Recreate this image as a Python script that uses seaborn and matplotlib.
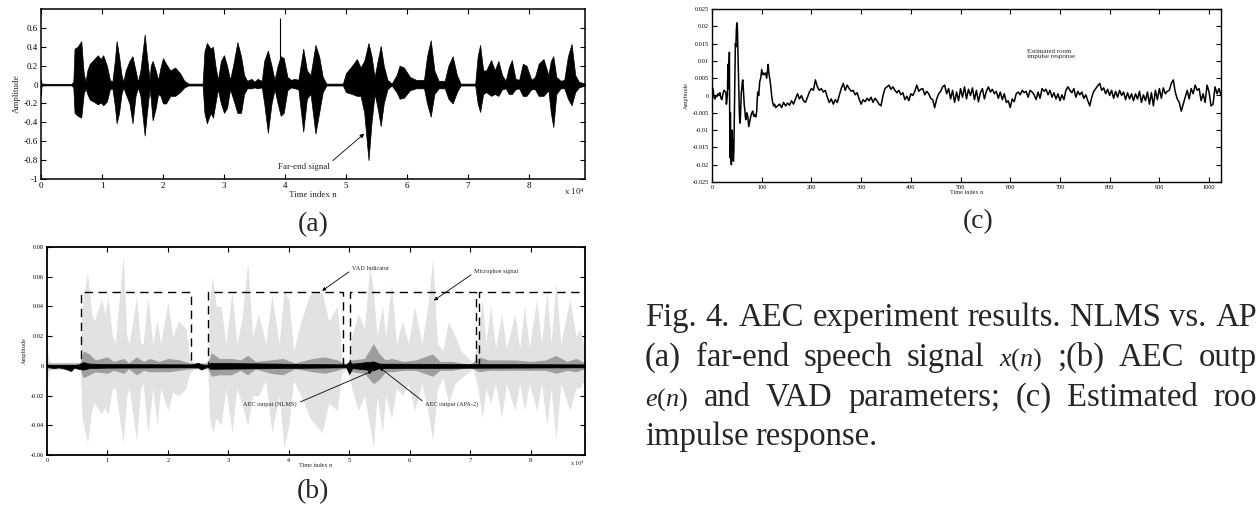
import numpy as np
import pandas as pd
import seaborn as sns
import matplotlib.pyplot as plt
from matplotlib.ticker import FuncFormatter

sns.set_theme(style='ticks')
plt.rcParams['font.family'] = ['Liberation Serif', 'DejaVu Serif']
plt.rcParams['mathtext.fontset'] = 'custom'
plt.rcParams['mathtext.rm'] = 'Liberation Serif'
plt.rcParams['mathtext.it'] = 'Liberation Serif:italic'

# ---- (a) far-end signal: envelope (time in units of 1e4 samples)
t_a = [0.00, 0.01, 0.10, 0.50, 0.53, 0.55, 0.60, 0.66, 0.70, 0.73, 0.76, 0.80, 0.86, 0.93, 0.98,
       1.02, 1.08, 1.13, 1.17, 1.21, 1.24, 1.28, 1.32, 1.35, 1.39, 1.45, 1.50, 1.55, 1.59, 1.63,
       1.70, 1.74, 1.78, 1.80, 1.83, 1.88, 1.92, 1.96, 2.00, 2.05, 2.12, 2.20, 2.28, 2.35, 2.42,
       2.65, 2.68, 2.72, 2.78, 2.82, 2.86, 2.90, 2.95, 3.00, 3.05, 3.10, 3.15, 3.22, 3.28, 3.33,
       3.38, 3.45, 3.50, 3.55, 3.62, 3.66, 3.72, 3.78, 3.83, 3.88, 3.93, 3.98, 4.04, 4.10, 4.16,
       4.22, 4.30, 4.36, 4.42, 4.50, 4.56, 4.62, 4.68, 4.95, 5.00, 5.10, 5.18, 5.24, 5.30, 5.37,
       5.42, 5.47, 5.52, 5.57, 5.62, 5.68, 5.75, 5.83, 5.88, 5.95, 6.05, 6.15, 6.28, 6.33, 6.39,
       6.45, 6.52, 6.62, 6.68, 6.75, 6.82, 6.88, 7.12, 7.16, 7.20, 7.25, 7.30, 7.38, 7.44, 7.50,
       7.56, 7.62, 7.67, 7.72, 7.78, 7.84, 7.90, 7.96, 8.04, 8.10, 8.16, 8.24, 8.32, 8.36, 8.40,
       8.45, 8.52, 8.58, 8.64, 8.70, 8.76, 8.82, 8.92]
up_a = [0.05, 0.01, 0.008, 0.008, 0.03, 0.38, 0.40, 0.46, 0.12, 0.03, 0.15, 0.22, 0.26, 0.31, 0.27,
        0.31, 0.20, 0.05, 0.03, 0.25, 0.46, 0.30, 0.10, 0.03, 0.15, 0.25, 0.30, 0.15, 0.03, 0.15,
        0.53, 0.28, 0.05, 0.20, 0.25, 0.15, 0.05, 0.18, 0.28, 0.22, 0.15, 0.18, 0.12, 0.04, 0.01,
        0.01, 0.35, 0.44, 0.38, 0.40, 0.20, 0.05, 0.25, 0.31, 0.20, 0.05, 0.20, 0.45, 0.30, 0.10,
        0.04, 0.06, 0.03, 0.06, 0.04, 0.25, 0.36, 0.20, 0.05, 0.20, 0.30, 0.28, 0.08, 0.05, 0.06,
        0.05, 0.38, 0.15, 0.10, 0.42, 0.30, 0.08, 0.01, 0.01, 0.12, 0.20, 0.27, 0.18, 0.25, 0.44,
        0.30, 0.08, 0.25, 0.41, 0.20, 0.05, 0.01, 0.10, 0.20, 0.18, 0.08, 0.05, 0.05, 0.30, 0.47,
        0.15, 0.04, 0.04, 0.20, 0.30, 0.10, 0.01, 0.01, 0.30, 0.42, 0.15, 0.15, 0.26, 0.15, 0.25,
        0.10, 0.04, 0.18, 0.26, 0.06, 0.05, 0.22, 0.20, 0.05, 0.08, 0.22, 0.27, 0.10, 0.25, 0.30,
        0.08, 0.04, 0.05, 0.30, 0.43, 0.10, 0.03, 0.01]
lo_a = [-0.11, -0.01, -0.008, -0.008, -0.03, -0.30, -0.33, -0.35, -0.10, -0.04, -0.10, -0.16, -0.18, -0.21, -0.19,
        -0.22, -0.18, -0.05, -0.04, -0.22, -0.41, -0.30, -0.10, -0.03, -0.10, -0.20, -0.41, -0.12, -0.03, -0.12,
        -0.54, -0.28, -0.05, -0.15, -0.38, -0.25, -0.10, -0.12, -0.20, -0.20, -0.12, -0.12, -0.08, -0.03, -0.01,
        -0.01, -0.30, -0.41, -0.30, -0.35, -0.20, -0.05, -0.20, -0.30, -0.25, -0.05, -0.15, -0.30, -0.30, -0.10,
        -0.04, -0.04, -0.03, -0.04, -0.03, -0.20, -0.51, -0.20, -0.05, -0.20, -0.33, -0.30, -0.06, -0.03, -0.04,
        -0.05, -0.50, -0.15, -0.10, -0.52, -0.30, -0.08, -0.01, -0.01, -0.08, -0.10, -0.12, -0.12, -0.30, -0.80,
        -0.40, -0.10, -0.25, -0.44, -0.20, -0.05, -0.01, -0.08, -0.15, -0.14, -0.06, -0.04, -0.04, -0.20, -0.34,
        -0.10, -0.04, -0.04, -0.15, -0.20, -0.08, -0.01, -0.01, -0.20, -0.29, -0.10, -0.08, -0.12, -0.10, -0.12,
        -0.05, -0.04, -0.10, -0.10, -0.05, -0.04, -0.12, -0.12, -0.05, -0.05, -0.12, -0.12, -0.06, -0.30, -0.45,
        -0.10, -0.04, -0.04, -0.15, -0.22, -0.08, -0.03, -0.01]
spike_t = 3.92
spike_top = 0.70

# ---- (b) microphone, AEC outputs and VAD
t_mic = [0.00, 0.03, 0.10, 0.55, 0.58, 0.67, 0.74, 0.78, 0.90, 0.96, 1.01, 1.08, 1.13, 1.26, 1.32,
         1.36, 1.48, 1.55, 1.59, 1.67, 1.75, 1.82, 1.88, 2.00, 2.08, 2.18, 2.30, 2.36, 2.45, 2.66,
         2.69, 2.74, 2.80, 2.88, 2.96, 3.06, 3.14, 3.22, 3.32, 3.40, 3.50, 3.62, 3.72, 3.84, 3.92,
         4.00, 4.08, 4.20, 4.35, 4.45, 4.55, 4.66, 4.80, 4.88, 4.98, 5.04, 5.15, 5.25, 5.34, 5.40,
         5.46, 5.55, 5.60, 5.70, 5.78, 5.88, 5.98, 6.08, 6.20, 6.30, 6.38, 6.46, 6.55, 6.64, 6.75,
         6.85, 7.05, 7.13, 7.20, 7.26, 7.34, 7.42, 7.52, 7.60, 7.74, 7.82, 7.90, 7.98, 8.10, 8.18,
         8.27, 8.34, 8.42, 8.50, 8.65, 8.75, 8.82, 8.90]
up_mic = [0.015, 0.004, 0.001, 0.001, 0.040, 0.063, 0.035, 0.030, 0.045, 0.035, 0.046, 0.020, 0.015, 0.075, 0.020,
          0.015, 0.046, 0.015, 0.015, 0.046, 0.015, 0.030, 0.015, 0.043, 0.020, 0.030, 0.025, 0.005, 0.001, 0.001,
          0.045, 0.060, 0.040, 0.040, 0.015, 0.050, 0.015, 0.030, 0.070, 0.020, 0.035, 0.015, 0.048, 0.015, 0.050,
          0.045, 0.010, 0.030, 0.048, 0.050, 0.050, 0.030, 0.040, 0.005, 0.001, 0.020, 0.035, 0.025, 0.067, 0.050,
          0.020, 0.040, 0.020, 0.055, 0.015, 0.030, 0.015, 0.040, 0.015, 0.040, 0.072, 0.015, 0.010, 0.030, 0.020,
          0.010, 0.002, 0.020, 0.045, 0.015, 0.040, 0.012, 0.035, 0.012, 0.035, 0.012, 0.040, 0.012, 0.045, 0.015,
          0.050, 0.015, 0.056, 0.015, 0.045, 0.020, 0.025, 0.010]
lo_mic = [-0.012, -0.004, -0.001, -0.001, -0.035, -0.052, -0.030, -0.025, -0.032, -0.028, -0.033, -0.015, -0.015, -0.052, -0.020,
          -0.015, -0.050, -0.015, -0.012, -0.045, -0.015, -0.040, -0.015, -0.030, -0.018, -0.020, -0.015, -0.005, -0.001, -0.001,
          -0.035, -0.045, -0.035, -0.040, -0.015, -0.045, -0.015, -0.025, -0.040, -0.020, -0.020, -0.010, -0.045, -0.020, -0.055,
          -0.040, -0.010, -0.020, -0.035, -0.040, -0.045, -0.025, -0.030, -0.005, -0.001, -0.015, -0.030, -0.020, -0.040, -0.055,
          -0.020, -0.045, -0.020, -0.035, -0.015, -0.020, -0.012, -0.030, -0.012, -0.030, -0.050, -0.015, -0.008, -0.025, -0.012,
          -0.008, -0.002, -0.015, -0.035, -0.015, -0.025, -0.012, -0.035, -0.012, -0.030, -0.012, -0.030, -0.012, -0.030, -0.012,
          -0.040, -0.015, -0.050, -0.012, -0.030, -0.015, -0.015, -0.008]

t_nlms = [0.00, 0.55, 0.60, 0.70, 0.80, 1.00, 1.10, 1.27, 1.35, 1.48, 1.60, 1.70, 1.85, 2.00, 2.20,
          2.35, 2.66, 2.72, 2.85, 3.05, 3.20, 3.32, 3.45, 3.70, 3.90, 4.10, 4.40, 4.60, 4.80, 4.95,
          5.05, 5.25, 5.40, 5.50, 5.60, 5.70, 5.90, 6.10, 6.38, 6.50, 6.70, 7.00, 7.15, 7.30, 7.50,
          7.75, 8.00, 8.25, 8.42, 8.60, 8.75, 8.90]
up_nlms = [0.002, 0.002, 0.010, 0.008, 0.004, 0.006, 0.003, 0.005, 0.002, 0.006, 0.003, 0.005, 0.003, 0.005, 0.004,
           0.002, 0.002, 0.009, 0.005, 0.005, 0.004, 0.007, 0.003, 0.004, 0.005, 0.002, 0.005, 0.006, 0.004, 0.001,
           0.004, 0.005, 0.015, 0.008, 0.004, 0.005, 0.003, 0.004, 0.008, 0.003, 0.003, 0.001, 0.006, 0.004, 0.004,
           0.004, 0.003, 0.004, 0.007, 0.003, 0.005, 0.002]
lo_nlms = [-0.002, -0.002, -0.008, -0.006, -0.004, -0.005, -0.003, -0.005, -0.002, -0.006, -0.003, -0.004, -0.004, -0.004, -0.003,
           -0.002, -0.002, -0.007, -0.006, -0.006, -0.003, -0.006, -0.002, -0.005, -0.006, -0.002, -0.004, -0.005, -0.003, -0.001,
           -0.004, -0.005, -0.012, -0.009, -0.004, -0.004, -0.003, -0.003, -0.007, -0.003, -0.003, -0.001, -0.004, -0.003, -0.003,
           -0.003, -0.003, -0.003, -0.005, -0.003, -0.004, -0.002]

t_apa = [0.00, 0.10, 0.20, 0.30, 0.40, 0.45, 0.52, 0.60, 0.70, 1.00, 2.40, 2.50, 2.55, 2.65, 2.70,
         4.95, 5.00, 5.05, 5.40, 5.50, 8.90]
up_apa = [0.0005, 0.0003, 0.0003, 0.0005, 0.0003, 0.0005, 0.0010, 0.0025, 0.0015, 0.0012, 0.0010, 0.0020, 0.0010, 0.0005, 0.0020,
          0.0010, 0.0030, 0.0015, 0.0030, 0.0015, 0.0010]
lo_apa = [-0.0005, -0.0015, -0.0010, -0.0020, -0.0035, -0.0010, -0.0020, -0.0025, -0.0015, -0.0012, -0.0010, -0.0010, -0.0025, -0.0005, -0.0020,
          -0.0010, -0.0055, -0.0015, -0.0030, -0.0015, -0.0010]

vad_t = [0.00, 0.57, 2.38, 2.67, 4.89, 5.02, 7.10, 7.15, 8.95]
vad_level = [0, 0.05, 0, 0.05, 0, 0.05, 0, 0.05, 0.05]

# ---- (c) estimated room impulse response
h_n_head = [0, 2, 4, 6, 8, 10, 12, 14, 16, 18, 20, 22, 24, 26, 28, 29, 31, 32, 33, 35,
            36, 37, 38, 39, 40, 41, 42, 43, 44, 45, 46, 47, 48, 49, 50, 51, 52, 53, 54, 55,
            56, 57, 58, 59, 60, 61, 62, 63, 64, 65, 66, 67, 68, 70, 72, 74, 76, 78, 80, 82,
            84, 86, 88, 90, 91, 92, 94, 96, 98, 100, 102, 104, 106, 108, 110, 112, 113, 114, 116, 118,
            120, 122, 124, 126, 128]
h_head = [0.0025, 0.002, -0.0005, -0.001, 0.0, -0.0003, 0.0005, 0.0, 0.0008, -0.0008,
          -0.0012, 0.0005, 0.0015, 0.0012, 0.0008, -0.0025, 0.0, 0.009, 0.002, 0.0125,
          -0.018, -0.005, -0.0175, -0.020, -0.010, -0.0125, -0.013, -0.019, -0.016, -0.005,
          0.008, 0.015, 0.014, 0.019, 0.021, 0.020, 0.014, 0.008, 0.002, -0.005,
          -0.008, -0.007, -0.003, 0.001, 0.002, 0.004, 0.0045, 0.002, -0.001, -0.003,
          -0.004, -0.006, -0.007, -0.005, -0.006, -0.009, -0.0075, -0.006, -0.005, -0.0045,
          -0.006, -0.0055, -0.0062, -0.0045, -0.001, 0.001, 0.0, 0.004, 0.005, 0.0075,
          0.006, 0.0065, 0.006, 0.0065, 0.005, 0.0075, 0.009, 0.007, 0.005, 0.003,
          0.0, -0.002, -0.003, -0.0025, -0.0035]
h_tail = [-0.0030, -0.0025, -0.0035, -0.0020, -0.0030, -0.0022, -0.0028, -0.0015, -0.0025, -0.0010,
          0.0005, -0.0010, 0.0000, -0.0015, -0.0020, -0.0005, 0.0010, 0.0020, 0.0015, 0.0045,
          0.0025, 0.0015, 0.0020, 0.0010, 0.0015, -0.0005, -0.0020, -0.0010, -0.0025, -0.0012,
          -0.0020, 0.0000, 0.0020, 0.0035, 0.0015, 0.0030, 0.0020, 0.0012, 0.0015, 0.0002,
          0.0008, -0.0010, -0.0025, -0.0012, -0.0018, -0.0008, -0.0015, -0.0005, -0.0020, -0.0008,
          -0.0015, -0.0025, -0.0030, 0.0000, 0.0020, 0.0025, 0.0030, 0.0018, 0.0025, 0.0015,
          0.0008, 0.0015, 0.0002, 0.0008, -0.0012, -0.0002, -0.0015, 0.0005, 0.0000, 0.0012,
          0.0030, 0.0012, 0.0018, 0.0020, 0.0002, 0.0012, 0.0005, -0.0008, -0.0012, -0.0035,
          -0.0010, 0.0005, 0.0012, 0.0025, 0.0030, 0.0005, 0.0020, -0.0010, 0.0015, -0.0020,
          0.0010, -0.0015, 0.0020, -0.0005, 0.0025, -0.0010, 0.0018, 0.0000, 0.0022, -0.0012,
          0.0015, -0.0018, 0.0008, 0.0020, -0.0010, 0.0012, 0.0025, 0.0010, 0.0018, 0.0005,
          0.0012, -0.0008, 0.0010, -0.0012, 0.0005, -0.0020, -0.0015, -0.0035, -0.0010, -0.0018,
          0.0005, 0.0010, 0.0002, 0.0015, 0.0008, 0.0012, -0.0005, 0.0015, 0.0010, 0.0002,
          -0.0012, 0.0010, -0.0008, 0.0020, 0.0012, 0.0018, 0.0002, 0.0015, -0.0005, 0.0008,
          -0.0010, 0.0005, -0.0015, 0.0002, -0.0012, 0.0015, 0.0025, 0.0015, 0.0008, 0.0020,
          -0.0005, 0.0012, 0.0002, 0.0010, -0.0008, 0.0002, -0.0015, -0.0030, -0.0005, 0.0012,
          0.0020, 0.0028, 0.0035, 0.0015, 0.0022, 0.0005, 0.0018, 0.0000, 0.0015, -0.0008,
          0.0012, -0.0005, 0.0015, 0.0000, 0.0010, -0.0012, 0.0008, -0.0010, 0.0005, -0.0015,
          0.0005, -0.0010, 0.0012, -0.0020, 0.0002, -0.0015, 0.0010, -0.0025, 0.0008, -0.0030,
          0.0015, -0.0012, 0.0020, -0.0008, 0.0022, 0.0005, 0.0012, 0.0015, 0.0035, 0.0045,
          0.0010, -0.0010, -0.0020, -0.0045, -0.0025, -0.0005, 0.0015, -0.0010, 0.0020, 0.0005,
          0.0030, 0.0015, 0.0020, -0.0015, 0.0005, -0.0020, 0.0030, 0.0010, -0.0030, -0.0025,
          0.0025, 0.0005, 0.0020, 0.0000]
h_n_tail = list(range(132, 1025, 4))

# caption as it shows in the scan (the page is cropped at the right edge)
caption_lines = [
    ['Fig.', '4.', 'AEC', 'experiment', 'results.', 'NLMS', 'vs.', 'AP'],
    ['(a)', 'far-end', 'speech', 'signal', r'$x(n)$', ';(b)', 'AEC', 'outp'],
    [r'$e(n)$', 'and', 'VAD', 'parameters;', '(c)', 'Estimated', 'roo'],
    ['impulse', 'response.'],
]

W, H = 1260, 511
fig = plt.figure(figsize=(W / 100, H / 100), dpi=100)
fig.patch.set_facecolor('white')


def box(l, t, r, b):
    return [l / W, 1 - b / H, (r - l) / W, (b - t) / H]


fmt = FuncFormatter(lambda v, p: '%g' % (round(v, 6) + 0.0))
fmt4 = FuncFormatter(lambda v, p: '%g' % (round(v / 1e4, 6) + 0.0))


def matlab_axes(ax, size, lw=1.0):
    ax.set_facecolor('white')
    ax.tick_params(direction='in', top=True, right=True, length=3.5, width=0.8,
                   labelsize=size, pad=2, colors='black')
    for s in ax.spines.values():
        s.set_linewidth(lw)
        s.set_color('black')
        s.set_visible(True)
    ax.grid(False)


# ---------------- (a)
ax_a = fig.add_axes(box(41, 9, 585, 179))
ta = np.array(t_a) * 1e4
ax_a.fill_between(ta, up_a, lo_a, color='black', lw=0.5)
ax_a.plot([0, 8.92e4], [0, 0], color='black', lw=0.8)
ax_a.vlines(spike_t * 1e4, -0.05, spike_top, color='black', lw=0.8)
ax_a.set_xlim(0, 8.92e4)
ax_a.set_ylim(-1, 0.8)
ax_a.set_xticks(np.arange(0, 9) * 1e4)
ax_a.set_yticks(np.arange(-1, 0.61, 0.2))
ax_a.xaxis.set_major_formatter(fmt4)
ax_a.yaxis.set_major_formatter(fmt)
matlab_axes(ax_a, 6.5, 1.1)
ax_a.set_xlabel('Time index n', fontsize=6.5, labelpad=1)
ax_a.set_ylabel('Amplitude', fontsize=6.5, labelpad=2)
ax_a.text(1.0, -0.04, r'x 10$^{4}$', transform=ax_a.transAxes, fontsize=6.5, ha='right', va='top')
ax_a.annotate('Far-end signal', xy=(5.3e4, -0.52), xytext=(3.88e4, -0.87), fontsize=6.5,
              ha='left', va='center',
              arrowprops=dict(arrowstyle='-|>', color='black', lw=0.6, mutation_scale=6,
                              relpos=(1, 0.9), shrinkA=0, shrinkB=0))

# ---------------- (b)
ax_b = fig.add_axes(box(47, 247, 585, 455))
ax_b.fill_between(np.array(t_mic) * 1e4, up_mic, lo_mic, color='#e2e2e2', lw=0)
ax_b.fill_between(np.array(t_nlms) * 1e4, up_nlms, lo_nlms, color='#9e9e9e', lw=0)
vad = pd.DataFrame({'t': np.array(vad_t) * 1e4, 'v': vad_level})
ax_b.plot(vad['t'], vad['v'], drawstyle='steps-post', color='black', lw=1.0, dashes=(6, 4))
ax_b.fill_between(np.array(t_apa) * 1e4, up_apa, lo_apa, color='black', lw=0.5)
ax_b.plot([0, 8.9e4], [0, 0], color='black', lw=1.2)
ax_b.set_xlim(0, 8.9e4)
ax_b.set_ylim(-0.06, 0.08)
ax_b.set_xticks(np.arange(0, 9) * 1e4)
ax_b.set_yticks(np.arange(-0.06, 0.081, 0.02))
ax_b.xaxis.set_major_formatter(fmt4)
ax_b.yaxis.set_major_formatter(fmt)
matlab_axes(ax_b, 4.5, 1.3)
ax_b.set_xlabel('Time index n', fontsize=4.5, labelpad=0)
ax_b.set_ylabel('Amplitude', fontsize=4.5, labelpad=3)
ax_b.text(1.0, -0.02, r'x 10$^{4}$', transform=ax_b.transAxes, fontsize=4.5, ha='right', va='top')
arr = dict(arrowstyle='-|>', color='black', lw=0.6, mutation_scale=5, shrinkA=0, shrinkB=0)
ax_b.annotate('VAD Indicator', xy=(4.55e4, 0.0505), xytext=(5.05e4, 0.0655), fontsize=4.5,
              ha='left', va='center', arrowprops=dict(arr, relpos=(0, 0.3)))
ax_b.annotate('Microphoe signal', xy=(6.4e4, 0.044), xytext=(7.07e4, 0.0635), fontsize=4.5,
              ha='left', va='center', arrowprops=dict(arr, relpos=(0, 0.3)))
ax_b.annotate('AEC output (NLMS)', xy=(5.38e4, -0.0035), xytext=(3.25e4, -0.026), fontsize=4.5,
              ha='left', va='center', arrowprops=dict(arr, relpos=(1, 0.7)))
ax_b.annotate('AEC output (APA-2)', xy=(5.5e4, -0.001), xytext=(6.26e4, -0.026), fontsize=4.5,
              ha='left', va='center', arrowprops=dict(arr, relpos=(0, 0.7)))

# ---------------- (c)
ax_c = fig.add_axes(box(712, 9, 1221, 182))
ir = pd.DataFrame({'n': h_n_head + h_n_tail, 'h': h_head + h_tail})
sns.lineplot(data=ir, x='n', y='h', ax=ax_c, color='black', lw=1.1, estimator=None, sort=False)
ax_c.set_xlim(0, 1024)
ax_c.set_ylim(-0.025, 0.025)
ax_c.set_xticks(np.arange(0, 1001, 100))
ax_c.set_yticks(np.arange(-0.025, 0.0251, 0.005))
ax_c.xaxis.set_major_formatter(fmt)
ax_c.yaxis.set_major_formatter(fmt)
matlab_axes(ax_c, 4.5, 1.0)
ax_c.set_xlabel('Time index n', fontsize=4.5, labelpad=0)
ax_c.set_ylabel('Amplitude', fontsize=4.5, labelpad=3)
ax_c.text(634, 0.0135, 'Estimated room\nimpulse response', fontsize=5, ha='left', va='top',
          linespacing=1.0)

# ---------------- panel letters
fig.text(313 / W, 1 - 225 / H, '(a)', fontsize=20, ha='center', va='center')
fig.text(313 / W, 1 - 492 / H, '(b)', fontsize=20, ha='center', va='center')
fig.text(978 / W, 1 - 222 / H, '(c)', fontsize=20, ha='center', va='center')

# ---------------- caption: justified lines between left and right edge
cap_size = 23.5
renderer = fig.canvas.get_renderer()
left, right = 645, 1257
baselines = [326, 366, 406, 445]

for i, (words, yb) in enumerate(zip(caption_lines, baselines)):
    ts = []
    for w in words:
        fs = cap_size * 0.8 if w.startswith('$') else cap_size
        ts.append(fig.text(0, 1 - yb / H, w, fontsize=fs, ha='left', va='baseline'))
    widths = [t.get_window_extent(renderer).width for t in ts]
    if i < len(caption_lines) - 1:
        gap = (right - left - sum(widths)) / (len(words) - 1)
    else:
        gap = 7
    x = left
    for t, w in zip(ts, widths):
        t.set_x(x / W)
        x += w + gap

fig.savefig('out.png', dpi=100)
